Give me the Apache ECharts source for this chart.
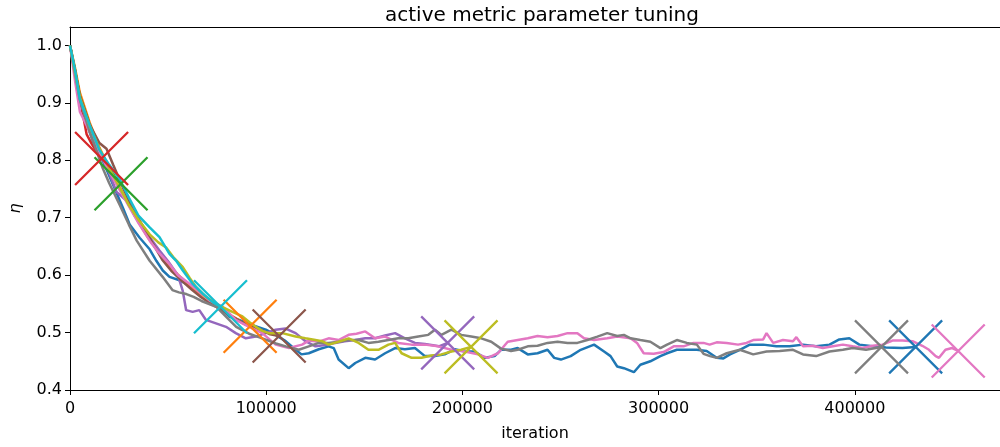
<!DOCTYPE html>
<html lang="en">
  <head>
    <meta charset="UTF-8" />
    <title>active metric parameter tuning</title>
    <script src="https://cdn.jsdelivr.net/npm/echarts@6/dist/echarts.min.js"></script>
    <style>
      body { margin: 0; background: #fff; }
    </style>
  </head>
  <body>
    <div id="main" style="width: 1000px; height: 447px"></div>
    <script>
      // [iteration, eta], one run per colour
      var blueRun = [[0,1.0],[2500,0.955],[5070,0.913],[8450,0.864],[11800,0.832],[16900,0.798],[22000,0.757],[27000,0.717],[30400,0.688],[35500,0.665],[40600,0.645],[44000,0.625],[47300,0.608],[50700,0.597],[55800,0.591],[60900,0.582],[65900,0.571],[71000,0.556],[76100,0.545],[81100,0.528],[86200,0.522],[93000,0.513],[99800,0.505],[104800,0.496],[109900,0.485],[115000,0.47],[118000,0.462],[121700,0.464],[126800,0.471],[131800,0.476],[134400,0.473],[136900,0.453],[142000,0.438],[145400,0.447],[150500,0.456],[155500,0.453],[160600,0.464],[165700,0.473],[170700,0.471],[175800,0.473],[180900,0.459],[186000,0.459],[191000,0.462],[196100,0.471],[201200,0.467],[206200,0.467],[211300,0.456],[216400,0.459],[219700,0.47],[224800,0.47],[228200,0.473],[233300,0.462],[238300,0.464],[243400,0.47],[246800,0.456],[250200,0.453],[255200,0.459],[260300,0.47],[267100,0.479],[272200,0.467],[275500,0.459],[278900,0.441],[282300,0.438],[287400,0.431],[290700,0.444],[295800,0.45],[300900,0.459],[304300,0.464],[309300,0.47],[319500,0.47],[324500,0.468],[329600,0.456],[333000,0.455],[336400,0.462],[341400,0.47],[346500,0.479],[353300,0.479],[360000,0.476],[366800,0.476],[373600,0.479],[380300,0.476],[387100,0.479],[392100,0.488],[397200,0.49],[402300,0.479],[409100,0.476],[415800,0.474],[424300,0.473],[431000,0.475]];
      var orangeRun = [[0,1.0],[2500,0.962],[5000,0.918],[10000,0.866],[15000,0.822],[20000,0.787],[25000,0.755],[30000,0.724],[35000,0.692],[40000,0.664],[45000,0.641],[50000,0.618],[55000,0.601],[60000,0.585],[65000,0.571],[70000,0.557],[75000,0.547],[80000,0.534],[85000,0.524],[88000,0.516],[91800,0.511]];
      var greenRun = [[0,1.0],[2500,0.958],[5000,0.912],[10000,0.862],[15000,0.818],[20000,0.786],[23000,0.771],[26000,0.759]];
      var redRun = [[0,1.0],[3000,0.94],[6000,0.89],[8500,0.845],[11000,0.829],[13500,0.815],[16100,0.803]];
      var purpleRun = [[0,1.0],[2500,0.955],[5000,0.905],[10000,0.855],[15000,0.815],[20000,0.778],[23700,0.745],[28700,0.73],[33000,0.703],[37200,0.683],[41000,0.664],[45600,0.643],[50000,0.624],[55000,0.6],[57500,0.572],[59200,0.539],[62500,0.536],[65900,0.539],[69300,0.522],[74400,0.516],[79500,0.51],[84500,0.499],[89600,0.49],[94700,0.493],[99800,0.499],[104800,0.505],[109900,0.507],[115000,0.499],[120000,0.485],[125100,0.476],[131800,0.479],[135200,0.482],[140000,0.485],[145400,0.487],[150500,0.49],[155500,0.49],[160600,0.495],[165700,0.499],[170700,0.49],[175800,0.482],[180900,0.48],[185000,0.478],[188000,0.476],[192500,0.482]];
      var brownRun = [[0,1.0],[2500,0.957],[5000,0.912],[10000,0.862],[15000,0.83],[18600,0.82],[22000,0.792],[27000,0.752],[32000,0.716],[37000,0.686],[42000,0.656],[47000,0.627],[52000,0.606],[57000,0.59],[62000,0.575],[67000,0.561],[72000,0.55],[77000,0.54],[82000,0.529],[87000,0.519],[92000,0.511],[97000,0.505],[102000,0.497],[106600,0.494]];
      var pinkRun = [[0,1.0],[2500,0.94],[5070,0.884],[10000,0.85],[15000,0.815],[20000,0.78],[25000,0.75],[30000,0.72],[35000,0.69],[40600,0.66],[45000,0.64],[50700,0.619],[55000,0.6],[60900,0.585],[66000,0.57],[71000,0.556],[77800,0.545],[84500,0.522],[91300,0.51],[98000,0.499],[104800,0.479],[111600,0.473],[118300,0.479],[121700,0.486],[126800,0.484],[131800,0.49],[136900,0.487],[142000,0.496],[146000,0.498],[150500,0.502],[155500,0.49],[160600,0.493],[167300,0.482],[174100,0.479],[180900,0.479],[187600,0.476],[194400,0.47],[201200,0.467],[207900,0.462],[213000,0.456],[218100,0.464],[223100,0.484],[228200,0.487],[233300,0.49],[238300,0.494],[243400,0.492],[248500,0.494],[253600,0.499],[258600,0.499],[262000,0.49],[267100,0.487],[273800,0.49],[278900,0.493],[285700,0.49],[289000,0.482],[292400,0.464],[297500,0.463],[302600,0.466],[307700,0.476],[312700,0.476],[317800,0.482],[322900,0.482],[326000,0.479],[329600,0.483],[334700,0.482],[340500,0.479],[344800,0.482],[348200,0.487],[353300,0.488],[355000,0.499],[358400,0.482],[363400,0.487],[368500,0.485],[370200,0.492],[373600,0.476],[378600,0.477],[383700,0.473],[388800,0.476],[393900,0.479],[398900,0.476],[404000,0.473],[409100,0.477],[414100,0.479],[419200,0.486],[424300,0.486],[429400,0.485],[434400,0.477],[437800,0.47],[441200,0.459],[442900,0.456],[446200,0.47],[449600,0.473],[452700,0.468]];
      var grayRun = [[0,1.0],[2500,0.952],[5000,0.905],[10000,0.85],[16700,0.786],[20000,0.76],[25350,0.722],[30000,0.688],[34000,0.66],[40600,0.625],[47200,0.597],[52200,0.574],[55500,0.57],[59300,0.567],[63000,0.562],[67000,0.555],[74500,0.545],[80000,0.526],[84700,0.51],[91300,0.498],[98000,0.49],[105000,0.481],[110000,0.476],[116600,0.47],[121700,0.476],[126800,0.482],[131800,0.482],[136900,0.484],[142000,0.487],[147100,0.487],[152100,0.482],[157200,0.484],[162300,0.487],[167300,0.49],[172400,0.49],[177500,0.493],[182600,0.496],[186000,0.505],[189300,0.496],[194400,0.505],[199400,0.496],[204500,0.493],[209600,0.49],[214700,0.484],[219700,0.472],[224800,0.468],[228200,0.47],[233300,0.476],[238300,0.477],[243400,0.482],[248500,0.484],[253600,0.482],[258600,0.482],[263700,0.487],[268800,0.493],[273800,0.499],[278900,0.494],[282300,0.496],[285700,0.49],[290700,0.487],[295800,0.484],[300900,0.473],[304300,0.479],[309300,0.487],[314400,0.482],[319500,0.479],[322900,0.463],[326200,0.459],[329600,0.456],[334700,0.464],[341400,0.47],[348200,0.462],[355000,0.467],[361700,0.468],[368500,0.47],[373600,0.462],[380300,0.459],[387100,0.467],[393900,0.47],[398900,0.473],[405700,0.47],[413600,0.475]];
      var oliveRun = [[0,1.0],[2500,0.955],[5000,0.91],[10000,0.86],[15000,0.82],[20000,0.786],[25000,0.755],[30000,0.722],[35000,0.696],[40600,0.671],[45000,0.657],[49000,0.648],[53000,0.63],[57500,0.614],[61000,0.595],[64300,0.579],[69000,0.563],[74400,0.55],[78500,0.543],[82800,0.536],[87900,0.528],[91500,0.518],[94700,0.51],[98000,0.503],[101400,0.499],[108200,0.499],[115000,0.493],[120000,0.49],[125100,0.487],[128500,0.485],[131800,0.479],[136900,0.484],[142000,0.49],[147100,0.482],[152100,0.47],[157200,0.47],[162300,0.479],[165700,0.482],[169000,0.464],[174100,0.456],[179200,0.456],[184200,0.46],[189300,0.462],[194400,0.467],[199400,0.47],[204400,0.475]];
      var cyanRun = [[0,1.0],[2500,0.958],[5000,0.907],[10000,0.861],[15000,0.818],[20000,0.792],[25000,0.769],[30000,0.735],[35000,0.703],[40600,0.683],[45600,0.666],[50700,0.637],[54100,0.625],[57500,0.608],[62500,0.585],[67600,0.568],[72700,0.553],[76700,0.545]];

      var runs = [blueRun, orangeRun, greenRun, redRun, purpleRun, brownRun, pinkRun, grayRun, oliveRun, cyanRun];
      var colors = ["#1f77b4", "#ff7f0e", "#2ca02c", "#d62728", "#9467bd", "#8c564b", "#e377c2", "#7f7f7f", "#bcbd22", "#17becf"];
      var xTicks = [0, 100000, 200000, 300000, 400000];
      var yTicks = [0.4, 0.5, 0.6, 0.7, 0.8, 0.9, 1.0];

      var font = "DejaVu Sans";
      var series = [];
      runs.forEach(function (run, i) {
        series.push({
          type: "line",
          data: run,
          showSymbol: false,
          symbol: "none",
          lineStyle: { color: colors[i], width: 2.5 },
          z: 2,
        });
        // big x at the end of each run
        series.push({
          type: "scatter",
          data: [run[run.length - 1]],
          symbol: "path://M0,0L10,10M10,0L0,10",
          symbolSize: 53,
          clip: false,
          itemStyle: { color: "rgba(0,0,0,0)", borderColor: colors[i], borderWidth: 2.3, opacity: 1 },
          z: 2,
        });
      });

      var myChart = echarts.init(document.getElementById("main"));
      var option = {
        animation: false,
        title: {
          text: "active metric parameter tuning",
          left: 537,
          top: 1,
          textAlign: "center",
          textStyle: { fontFamily: font, fontSize: 20, fontWeight: "normal", color: "#000" },
        },
        grid: {
          left: 70,
          top: 27,
          right: -5,
          bottom: 53.5,
        },
        xAxis: [
          {
            type: "value",
            min: 0,
            max: 474000,
            interval: 100000,
            name: "iteration",
            nameLocation: "middle",
            nameGap: 36,
            nameTextStyle: { fontFamily: font, fontSize: 16, color: "#000" },
            axisLine: { show: true, onZero: false, lineStyle: { color: "#000", width: 1 } },
            axisTick: { show: true, length: 5, lineStyle: { color: "#000" } },
            axisLabel: {
              showMaxLabel: false,
              margin: 11,
              fontFamily: font,
              fontSize: 16,
              color: "#000",
              formatter: function (v) { return xTicks.indexOf(v) >= 0 ? String(v) : ""; },
            },
            splitLine: { show: false },
          },
          {
            // top spine only
            type: "value",
            position: "top",
            min: 0,
            max: 474000,
            axisLine: { show: true, onZero: false, lineStyle: { color: "#000", width: 1 } },
            axisTick: { show: false },
            axisLabel: { show: false },
            splitLine: { show: false },
          },
        ],
        yAxis: {
          type: "value",
          min: 0.4,
          max: 1.032,
          interval: 0.1,
          name: "η",
          nameLocation: "middle",
          nameRotate: 90,
          nameGap: 46,
          nameTextStyle: { fontFamily: font, fontSize: 16, fontStyle: "italic", color: "#000" },
          axisLine: { show: true, onZero: false, lineStyle: { color: "#000", width: 1 } },
          axisTick: { show: true, length: 5, lineStyle: { color: "#000" } },
          axisLabel: {
            showMaxLabel: false,
            margin: 8,
            fontFamily: font,
            fontSize: 16,
            color: "#000",
            formatter: function (v) {
              var hit = yTicks.filter(function (t) { return Math.abs(t - v) < 1e-6; });
              return hit.length ? hit[0].toFixed(1) : "";
            },
          },
          splitLine: { show: false },
        },
        series: series,
      };
      myChart.setOption(option);
    </script>
  </body>
</html>
